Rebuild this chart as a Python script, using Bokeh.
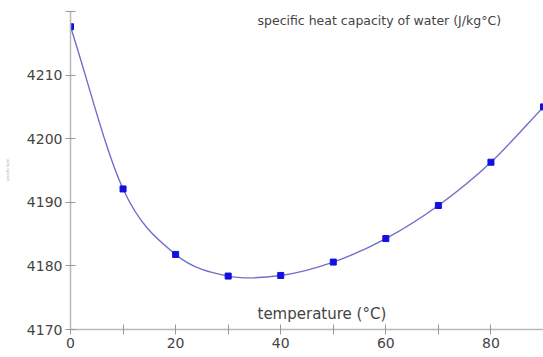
import numpy as np
from bokeh.plotting import figure
from bokeh.models import Range1d, FixedTicker, Label, ColumnDataSource
from bokeh.embed import file_html
from bokeh.resources import INLINE

temperature = [0, 10, 20, 30, 40, 50, 60, 70, 80, 90]
heat_capacity = [4217.6, 4192.1, 4181.8, 4178.4, 4178.5, 4180.6, 4184.3, 4189.5, 4196.3, 4205.0]
x_major = [0, 20, 40, 60, 80]
x_minor = [10, 30, 50, 70, 90]
y_ticks = [4170, 4180, 4190, 4200, 4210, 4220]
y_labels = {4220: ""}
title_text = "specific heat capacity of water (J/kg°C)"
xlabel_text = "temperature (°C)"
ylabel_text = "specific heat"

FONT = "DejaVu Sans"

p = figure(width=543, height=357, output_backend="svg", toolbar_location=None,
           x_range=Range1d(0, 90), y_range=Range1d(4170, 4220),
           min_border_left=70, min_border_right=0, min_border_top=11, min_border_bottom=28)
p.outline_line_color = None
p.xgrid.visible = False
p.ygrid.visible = False
p.background_fill_color = "white"
p.border_fill_color = "white"

for ax in (p.xaxis[0], p.yaxis[0]):
    ax.axis_line_color = "#b8b8b8"
    ax.axis_line_width = 1.5
    ax.major_tick_line_color = "#999999"
    ax.minor_tick_line_color = "#999999"
    ax.major_tick_in = 5
    ax.major_tick_out = 5
    ax.minor_tick_in = 5
    ax.minor_tick_out = 5
    ax.major_label_text_font = FONT
    ax.major_label_text_font_size = "14px"
    ax.major_label_text_color = "#444444"
    ax.major_label_standoff = 3

p.xaxis[0].ticker = FixedTicker(ticks=x_major, minor_ticks=x_minor)
p.yaxis[0].ticker = FixedTicker(ticks=y_ticks, minor_ticks=[])
p.yaxis[0].major_label_overrides = y_labels
p.yaxis[0].axis_label = ylabel_text
p.yaxis[0].axis_label_text_font_size = "4px"
p.yaxis[0].axis_label_text_color = "#aaaaaa"
p.yaxis[0].axis_label_text_font_style = "normal"
p.yaxis[0].axis_label_standoff = 14

# smooth curve via Catmull-Rom cubic Bezier segments built from the data
xs = np.array(temperature, dtype=float)
ys = np.array(heat_capacity, dtype=float)
n = len(xs)
tx = np.zeros(n); ty = np.zeros(n)
for i in range(n):
    a = max(i - 1, 0); b = min(i + 1, n - 1)
    tx[i] = (xs[b] - xs[a]) / (b - a)
    ty[i] = (ys[b] - ys[a]) / (b - a)
seg = ColumnDataSource(dict(
    x0=xs[:-1], y0=ys[:-1], x1=xs[1:], y1=ys[1:],
    cx0=xs[:-1] + tx[:-1] / 3, cy0=ys[:-1] + ty[:-1] / 3,
    cx1=xs[1:] - tx[1:] / 3, cy1=ys[1:] - ty[1:] / 3,
))
p.bezier(x0="x0", y0="y0", x1="x1", y1="y1", cx0="cx0", cy0="cy0", cx1="cx1", cy1="cy1",
         source=seg, line_color="#7070c8", line_width=1.4)

p.scatter(temperature, heat_capacity, marker="square", size=6, fill_color="#1010e0",
          line_color="#1010e0")

# label positions are relative to the plot frame (x from left, y from bottom)
p.add_layout(Label(x=187, y=309, x_units="screen", y_units="screen", text=title_text,
                   text_font=FONT, text_font_size="12.5px", text_color="#444444",
                   text_baseline="middle"))
p.add_layout(Label(x=187, y=16, x_units="screen", y_units="screen", text=xlabel_text,
                   text_font=FONT, text_font_size="15px", text_color="#444444",
                   text_baseline="middle"))

open("out.html", "w").write(file_html(p, INLINE))
